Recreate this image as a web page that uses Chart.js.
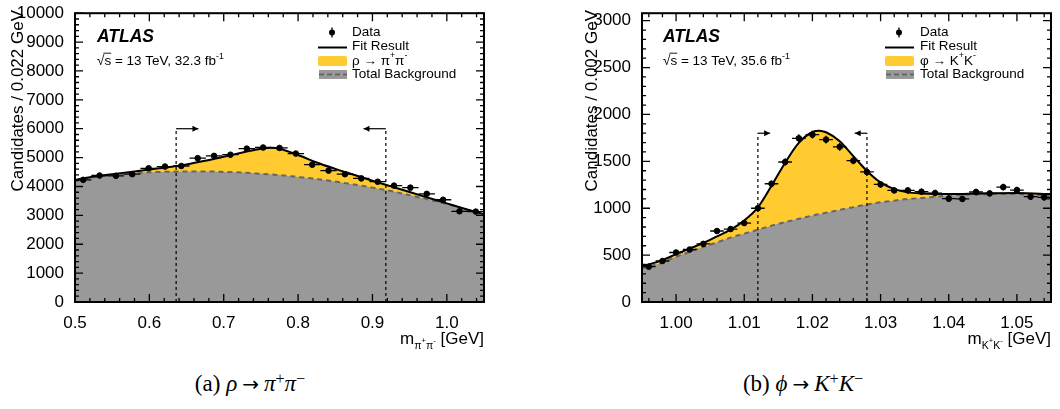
<!DOCTYPE html>
<html>
<head>
<meta charset="utf-8">
<script src="https://cdn.jsdelivr.net/npm/chart.js@4.4.1/dist/chart.umd.min.js"></script>
<style>
  body { margin: 0; background: #fff; width: 1060px; height: 409px; position: relative; overflow: hidden; }
  canvas { position: absolute; top: 0; }
  .cap { position: absolute; top: 372px; width: 240px; text-align: center; color: #000;
         font-family: "Liberation Serif", "DejaVu Serif", serif; font-size: 23px; line-height: 23px; white-space: nowrap; }
  .cap sup { font-size: 70%; vertical-align: 0.45em; line-height: 0; }
  .cap .rel { margin: 0 0.25em; font-family: "DejaVu Sans", sans-serif; font-size: 20px; }
</style>
</head>
<body>
<canvas id="rho" width="530" height="360" style="left:0"></canvas>
<canvas id="phi" width="530" height="360" style="left:530px"></canvas>
<div class="cap" style="left:130px">(a) <i>ρ</i><span class="rel">→</span><i>π</i><sup>+</sup><i>π</i><sup>−</sup></div>
<div class="cap" style="left:683px">(b) <i>ϕ</i><span class="rel">→</span><i>K</i><sup>+</sup><i>K</i><sup>−</sup></div>
<script>
// ================= DATA: rho -> pi+ pi- =================
const rhoBins = [0.511, 0.533, 0.555, 0.577, 0.599, 0.621, 0.643, 0.665, 0.687, 0.709, 0.731, 0.753, 0.775,
                 0.797, 0.819, 0.841, 0.863, 0.885, 0.907, 0.929, 0.951, 0.973, 0.995, 1.017, 1.039];
const rhoCounts = [4230, 4380, 4370, 4425, 4630, 4690, 4710, 4980, 5060, 5100, 5310, 5350, 5335,
                   5140, 4755, 4550, 4425, 4280, 4165, 4030, 3960, 3745, 3540, 3140, 3130];
const rhoErrors = [65, 66, 66, 67, 68, 68, 69, 71, 71, 71, 73, 73, 73,
                   72, 69, 67, 67, 65, 65, 63, 63, 61, 59, 56, 56];
const rhoCurveX = [0.5, 0.525, 0.55, 0.575, 0.6, 0.625, 0.65, 0.675, 0.7, 0.725, 0.75, 0.765,
                   0.775, 0.8, 0.825, 0.85, 0.875, 0.9, 0.925, 0.95, 0.975, 1.0, 1.025, 1.05];
const rhoFit = [4225, 4345, 4425, 4505, 4585, 4665, 4765, 4890, 5030, 5175, 5310, 5340,
                5305, 5090, 4830, 4610, 4405, 4200, 4005, 3810, 3610, 3415, 3220, 3035];
const rhoBkg = [4210, 4320, 4400, 4455, 4490, 4510, 4520, 4520, 4505, 4480, 4440, 4415,
                4395, 4330, 4260, 4170, 4070, 3960, 3840, 3700, 3550, 3390, 3210, 3000];
const rhoCuts = [0.636, 0.918];
const rhoXTicks = [0.5, 0.6, 0.7, 0.8, 0.9, 1.0];
const rhoYTicks = [0, 1000, 2000, 3000, 4000, 5000, 6000, 7000, 8000, 9000, 10000];

// ================= DATA: phi -> K+ K- =================
const phiBins = [0.996, 0.998, 1.000, 1.002, 1.004, 1.006, 1.008, 1.010, 1.012, 1.014, 1.016, 1.018, 1.020, 1.022, 1.024,
                 1.026, 1.028, 1.030, 1.032, 1.034, 1.036, 1.038, 1.040, 1.042, 1.044, 1.046, 1.048, 1.050, 1.052, 1.054];
const phiCounts = [377, 437, 528, 560, 620, 757, 778, 842, 1000, 1261, 1493, 1746, 1785, 1732, 1655,
                   1507, 1387, 1254, 1190, 1190, 1176, 1162, 1102, 1099, 1173, 1158, 1225, 1194, 1123, 1116];
const phiErrors = [19, 21, 23, 24, 25, 28, 28, 29, 32, 36, 39, 42, 42, 42, 41,
                   39, 37, 35, 34, 34, 34, 34, 33, 33, 34, 34, 35, 35, 34, 33];
const phiCurveX = [0.995, 0.998, 1.000, 1.002, 1.004, 1.006, 1.008, 1.010, 1.012, 1.014, 1.016, 1.018, 1.020,
                   1.021, 1.022, 1.024, 1.026, 1.028, 1.030, 1.032, 1.034, 1.036, 1.040, 1.045, 1.050, 1.055];
const phiFit = [380, 447, 510, 570, 630, 700, 771, 870, 1010, 1240, 1486, 1697, 1813,
                1827, 1810, 1715, 1556, 1398, 1275, 1204, 1169, 1158, 1151, 1158, 1162, 1151];
const phiBkg = [360, 419, 482, 535, 588, 634, 687, 729, 771, 813, 852, 887, 922,
                937, 951, 982, 1011, 1039, 1063, 1081, 1099, 1109, 1134, 1150, 1151, 1134];
const phiCuts = [1.012, 1.028];
const phiXTicks = [1.00, 1.01, 1.02, 1.03, 1.04, 1.05];
const phiYTicks = [0, 500, 1000, 1500, 2000, 2500, 3000];

// ================= STYLE =================
const FONT = '"Liberation Sans", Arial, Helvetica, sans-serif';
const YELLOW = '#FFCB30';
const GREY = '#999999';
const DASH = '#666666';
Chart.defaults.font.family = FONT;

// [size factor, baseline shift in em of the main size]
const RICH = { '': [1, 0], sup: [0.65, -0.4], sub: [0.62, 0.3], subsup: [0.45, -0.05] };

function richText(ctx, parts, x, y, size, align) {
  const pieces = parts.map(p => typeof p === 'string' ? [p, ''] : p);
  const font = m => `${size * RICH[m][0]}px ${FONT}`;
  let w = 0;
  pieces.forEach(([t, m]) => { ctx.font = font(m); w += ctx.measureText(t).width; });
  let cx = align === 'right' ? x - w : x;
  ctx.textAlign = 'left';
  pieces.forEach(([t, m]) => {
    ctx.font = font(m);
    ctx.fillText(t, cx, y + RICH[m][1] * size);
    cx += ctx.measureText(t).width;
  });
  return w;
}

function minorTicks(lo, hi, step, majors) {
  const out = [];
  for (let k = Math.ceil(lo / step - 1e-6); k * step <= hi + 1e-9; k++) {
    const v = +(k * step).toFixed(6);
    if (!majors.some(m => Math.abs(m - v) < step / 10)) out.push(v);
  }
  return out;
}

const pts = (xs, ys) => xs.map((x, i) => ({ x, y: ys[i] }));

// ================= PANEL =================
function makePanel(id, p) {
  const decor = {
    id: 'decor',
    afterDatasetsDraw(chart) {
      const { ctx, chartArea: a, scales: { x, y } } = chart;
      const X = v => x.getPixelForValue(v), Y = v => y.getPixelForValue(v);
      ctx.save();
      ctx.strokeStyle = '#000';
      ctx.fillStyle = '#000';

      // error bars
      ctx.lineWidth = 1.3;
      ctx.beginPath();
      p.bins.forEach((b, i) => {
        const yy = Y(p.counts[i]);
        ctx.moveTo(Math.max(X(b - p.halfBin), a.left), yy);
        ctx.lineTo(Math.min(X(b + p.halfBin), a.right), yy);
        ctx.moveTo(X(b), Y(p.counts[i] - p.errors[i]));
        ctx.lineTo(X(b), Y(p.counts[i] + p.errors[i]));
      });
      ctx.stroke();

      // signal window
      p.cuts.forEach((c, i) => {
        const dir = i === 0 ? 1 : -1;
        const cx = X(c), top = Y(p.cutTop), tip = X(c + dir * p.arrowLen);
        ctx.lineWidth = 1.2;
        ctx.setLineDash([3, 3]);
        ctx.beginPath(); ctx.moveTo(cx, a.bottom); ctx.lineTo(cx, top); ctx.stroke();
        ctx.setLineDash([]);
        ctx.beginPath(); ctx.moveTo(cx, top); ctx.lineTo(tip, top); ctx.stroke();
        ctx.beginPath();
        ctx.moveTo(tip, top); ctx.lineTo(tip - dir * 6, top - 3); ctx.lineTo(tip - dir * 6, top + 3);
        ctx.closePath(); ctx.fill();
      });

      // ticks on all four sides
      ctx.lineWidth = 1.3;
      ctx.beginPath();
      [[p.xTicks, 8], [minorTicks(x.min, x.max, p.xMinor, p.xTicks), 4]].forEach(([vals, len]) =>
        vals.forEach(v => {
          const px = X(v);
          ctx.moveTo(px, a.bottom); ctx.lineTo(px, a.bottom - len);
          ctx.moveTo(px, a.top); ctx.lineTo(px, a.top + len);
        }));
      [[p.yTicks, 8], [minorTicks(y.min, y.max, p.yMinor, p.yTicks), 4]].forEach(([vals, len]) =>
        vals.forEach(v => {
          const py = Y(v);
          ctx.moveTo(a.left, py); ctx.lineTo(a.left + len, py);
          ctx.moveTo(a.right, py); ctx.lineTo(a.right - len, py);
        }));
      ctx.stroke();
      ctx.lineWidth = 2;
      ctx.strokeRect(a.left, a.top, a.right - a.left, a.bottom - a.top);

      // axis titles
      ctx.textBaseline = 'alphabetic';
      richText(ctx, p.xTitle, a.right, 344, 17, 'right');
      ctx.save();
      ctx.translate(p.yTitleX, 10);
      ctx.rotate(-Math.PI / 2);
      ctx.font = `17px ${FONT}`;
      ctx.textAlign = 'right';
      ctx.textBaseline = 'middle';
      ctx.fillText(p.yTitle, 0, 0);
      ctx.restore();

      // ATLAS label
      ctx.textAlign = 'left';
      ctx.textBaseline = 'alphabetic';
      ctx.font = `italic bold 17.5px ${FONT}`;
      ctx.fillText('ATLAS', p.labelX, 42);
      ctx.font = `13.5px ${FONT}`;
      const wRoot = ctx.measureText('√').width, wS = ctx.measureText('s').width;
      richText(ctx, ['√s = 13 TeV, ' + p.lumi + ' fb', ['-1', 'sup']], p.labelX, 64.5, 13.5);
      ctx.lineWidth = 0.9;
      ctx.beginPath();
      ctx.moveTo(p.labelX + wRoot - 1, 64.5 - 11.3);
      ctx.lineTo(p.labelX + wRoot + wS, 64.5 - 11.3);
      ctx.stroke();

      // legend
      const L = p.legendX, T = p.legendText, rows = [32.5, 46.5, 61, 74.5];
      ctx.beginPath(); ctx.arc(L + 14, rows[0], 3, 0, 2 * Math.PI); ctx.fill();
      ctx.lineWidth = 1.3;
      ctx.beginPath(); ctx.moveTo(L + 14, rows[0] - 5); ctx.lineTo(L + 14, rows[0] + 5); ctx.stroke();
      ctx.lineWidth = 2;
      ctx.beginPath(); ctx.moveTo(L, rows[1] + 1); ctx.lineTo(L + 29, rows[1] + 1); ctx.stroke();
      ctx.fillStyle = YELLOW;
      ctx.beginPath(); ctx.roundRect(L, rows[2] - 5, 29, 10, 2); ctx.fill();
      ctx.fillStyle = GREY;
      ctx.fillRect(L + 1, rows[3] - 4.5, 28, 9);
      ctx.strokeStyle = DASH;
      ctx.setLineDash([5, 3]);
      ctx.beginPath(); ctx.moveTo(L + 1, rows[3]); ctx.lineTo(L + 29, rows[3]); ctx.stroke();
      ctx.setLineDash([]);
      ctx.fillStyle = '#000';
      ctx.textBaseline = 'middle';
      p.legendLabels.forEach((lab, i) => richText(ctx, typeof lab === 'string' ? [lab] : lab, T, rows[i], 13.5));
      ctx.restore();
    }
  };

  return new Chart(document.getElementById(id), {
    type: 'line',
    data: {
      datasets: [
        { data: pts(p.bins, p.counts), showLine: false, pointRadius: 2.8, pointBackgroundColor: '#000',
          pointBorderColor: '#000', pointBorderWidth: 1 },
        { data: pts(p.curveX, p.fit), borderColor: '#000', borderWidth: 2, pointRadius: 0, fill: false,
          cubicInterpolationMode: 'monotone' },
        { data: pts(p.curveX, p.bkg), borderColor: DASH, borderWidth: 2, borderDash: [5, 4], pointRadius: 0,
          fill: 'origin', backgroundColor: GREY, cubicInterpolationMode: 'monotone' },
        { data: pts(p.curveX, p.fit), borderColor: YELLOW, borderWidth: 1, pointRadius: 0,
          fill: 'origin', backgroundColor: YELLOW, cubicInterpolationMode: 'monotone' }
      ]
    },
    options: {
      responsive: false,
      animation: false,
      events: [],
      layout: { padding: { top: 11, right: p.padRight, left: 0, bottom: 0 } },
      plugins: { legend: { display: false }, tooltip: { enabled: false } },
      scales: {
        x: {
          type: 'linear', min: p.xMin, max: p.xMax,
          grid: { display: false }, border: { display: false },
          afterBuildTicks: s => { s.ticks = p.xTicks.map(v => ({ value: v })); },
          afterFit: s => { s.height = 58; },
          ticks: { color: '#000', font: { size: 17 }, padding: 3, maxRotation: 0, autoSkip: false,
                   callback: v => v.toFixed(p.xDec) }
        },
        y: {
          type: 'linear', min: 0, max: p.yMax,
          grid: { display: false }, border: { display: false },
          afterBuildTicks: s => { s.ticks = p.yTicks.map(v => ({ value: v })); },
          afterFit: s => { s.width = p.yWidth; },
          ticks: { color: '#000', font: { size: 17 }, padding: 3, autoSkip: false, callback: v => String(v) }
        }
      }
    },
    plugins: [decor]
  });
}

makePanel('rho', {
  bins: rhoBins, counts: rhoCounts, errors: rhoErrors, halfBin: 0.011,
  curveX: rhoCurveX, fit: rhoFit, bkg: rhoBkg,
  cuts: rhoCuts, cutTop: 6000, arrowLen: 0.03,
  xMin: 0.5, xMax: 1.05, xTicks: rhoXTicks, xMinor: 0.02, xDec: 1,
  yMax: 10000, yTicks: rhoYTicks, yMinor: 200,
  yWidth: 75, padRight: 46, yTitleX: 18, labelX: 97, legendX: 318, legendText: 352,
  lumi: '32.3',
  yTitle: 'Candidates / 0.022 GeV',
  xTitle: ['m', ['π', 'sub'], ['+', 'subsup'], ['π', 'sub'], ['-', 'subsup'], ' [GeV]'],
  legendLabels: ['Data', 'Fit Result', ['ρ → π', ['+', 'sup'], 'π', ['-', 'sup']], 'Total Background']
});

makePanel('phi', {
  bins: phiBins, counts: phiCounts, errors: phiErrors, halfBin: 0.001,
  curveX: phiCurveX, fit: phiFit, bkg: phiBkg,
  cuts: phiCuts, cutTop: 1800, arrowLen: 0.0018,
  xMin: 0.995, xMax: 1.055, xTicks: phiXTicks, xMinor: 0.002, xDec: 2,
  yMax: 3080, yTicks: phiYTicks, yMinor: 100,
  yWidth: 112, padRight: 9, yTitleX: 62.5, labelX: 133, legendX: 355, legendText: 390,
  lumi: '35.6',
  yTitle: 'Candidates / 0.002 GeV',
  xTitle: ['m', ['K', 'sub'], ['+', 'subsup'], ['K', 'sub'], ['-', 'subsup'], ' [GeV]'],
  legendLabels: ['Data', 'Fit Result', ['φ → K', ['+', 'sup'], 'K', ['-', 'sup']], 'Total Background']
});
</script>
</body>
</html>
